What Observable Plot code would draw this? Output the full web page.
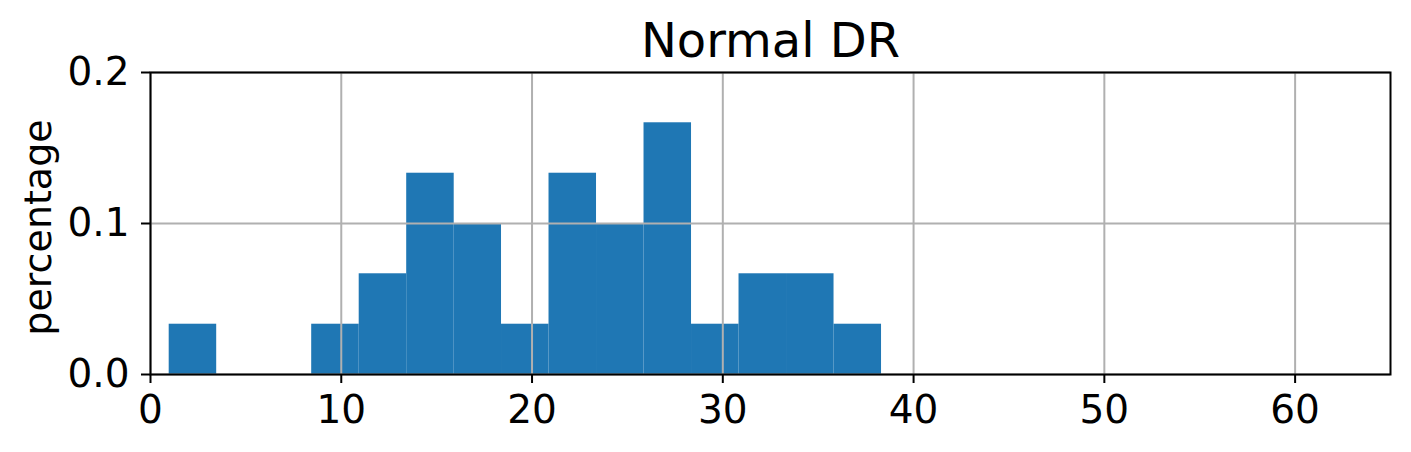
<!DOCTYPE html>
<html>
<head>
<meta charset="utf-8">
<script src="https://cdn.jsdelivr.net/npm/d3@7"></script>
<script src="https://cdn.jsdelivr.net/npm/@observablehq/plot@0.6"></script>
<style>
  html, body { margin: 0; padding: 0; background: #fff; }
  svg { display: block; }
</style>
</head>
<body>
<div id="chart"></div>
<script>
const title = "Normal DR";
const yLabel = "percentage";
const binEdges = [0.98, 3.47, 5.96, 8.45, 10.94, 13.43, 15.92, 18.40, 20.89, 23.38, 25.87, 28.36, 30.85, 33.34, 35.83, 38.32];
const percentages = [0.0333, 0, 0, 0.0333, 0.0667, 0.1333, 0.1, 0.0333, 0.1333, 0.1, 0.1667, 0.0333, 0.0667, 0.0667, 0.0333];
const xTicks = [0, 10, 20, 30, 40, 50, 60];
const yTicks = [0, 0.1, 0.2];

const bins = percentages.map((p, i) => ({x1: binEdges[i], x2: binEdges[i + 1], y: p}));

const FONT = "'DejaVu Sans', sans-serif";
const chart = Plot.plot({
  width: 1411,
  height: 452,
  marginLeft: 150,
  marginRight: 21,
  marginTop: 72,
  marginBottom: 78,
  style: {fontFamily: FONT, fontSize: "39px", color: "black", background: "white"},
  x: {domain: [0, 65]},
  y: {domain: [0, 0.2]},
  marks: [
    Plot.rectY(bins, {x1: "x1", x2: "x2", y: "y", fill: "#1f77b4", inset: 0}),
    Plot.gridX(xTicks, {stroke: "#b0b0b0", strokeOpacity: 1, strokeWidth: 2}),
    Plot.gridY(yTicks, {stroke: "#b0b0b0", strokeOpacity: 1, strokeWidth: 2}),
    Plot.frame({stroke: "black", strokeWidth: 2}),
    Plot.axisX(xTicks, {tickSize: 9, tickPadding: 12, strokeWidth: 2, stroke: "black", fill: "black", fontSize: 39, label: null, tickFormat: d3.format("d")}),
    Plot.axisY(yTicks, {tickSize: 9, tickPadding: 12, strokeWidth: 2, stroke: "black", fill: "black", fontSize: 39, label: null, tickFormat: d3.format(".1f")}),
    Plot.text([title], {frameAnchor: "top", dy: -31, lineAnchor: "middle", textAnchor: "middle", fontSize: 48, fill: "black"}),
    Plot.text([yLabel], {frameAnchor: "left", dx: -112, dy: 4, rotate: -90, textAnchor: "middle", lineAnchor: "middle", fontSize: 38, fill: "black"})
  ]
});
document.getElementById("chart").append(chart);
</script>
</body>
</html>
